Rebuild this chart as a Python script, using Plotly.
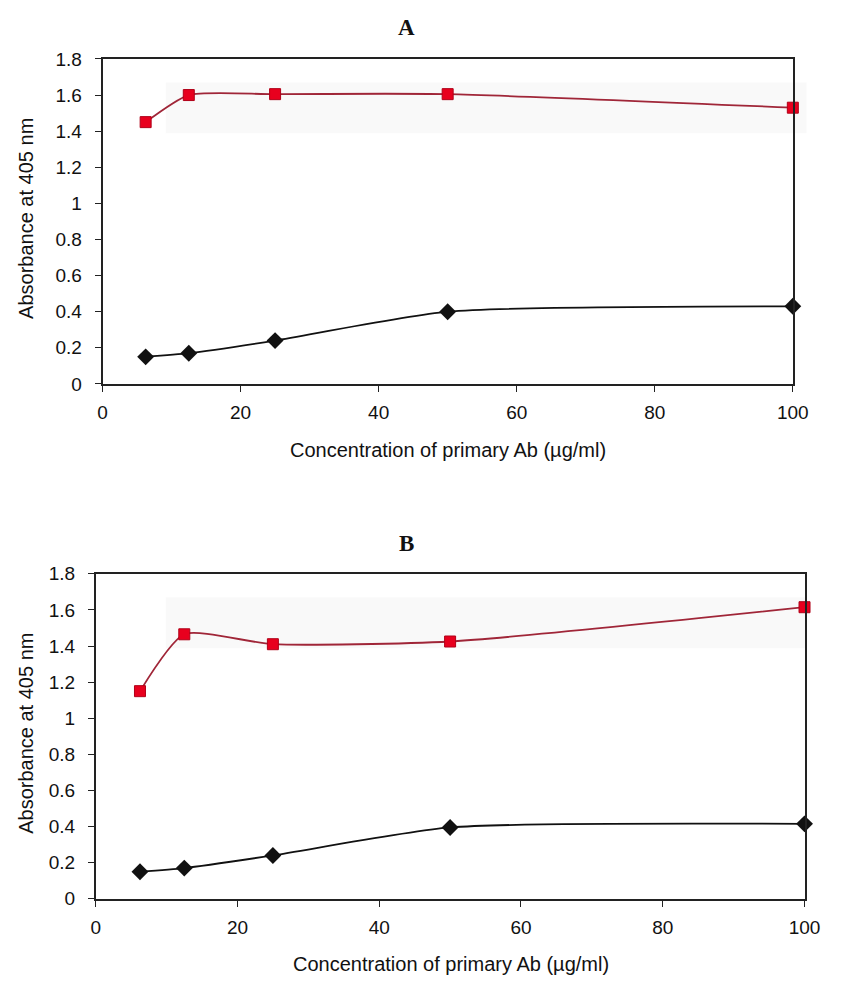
import plotly.graph_objects as go

conc = [6.25, 12.5, 25, 50, 100]
a_red = [1.45, 1.60, 1.605, 1.605, 1.53]
a_black = [0.15, 0.17, 0.24, 0.40, 0.43]
b_red = [1.15, 1.465, 1.41, 1.425, 1.615]
b_black = [0.15, 0.17, 0.24, 0.395, 0.415]
x_ticks = [0, 20, 40, 60, 80, 100]
y_ticks = [0, 0.2, 0.4, 0.6, 0.8, 1, 1.2, 1.4, 1.6, 1.8]
y_ticktext = ["0", "0.2", "0.4", "0.6", "0.8", "1", "1.2", "1.4", "1.6", "1.8"]
titles = ["A", "B"]
x_title = "Concentration of primary Ab (\u00b5g/ml)"
y_title = "Absorbance at 405 nm"

W, H = 841, 992
fig = go.Figure()

panels = [
    dict(xa="x", ya="y", red=a_red, black=a_black, xd=[100, 808], yd=[50, 382],
         title_y=18, xtitle_y=450, xtitle_x=454),
    dict(xa="x2", ya="y2", red=b_red, black=b_black, xd=[93, 820], yd=[576, 908],
         title_y=545, xtitle_y=975, xtitle_x=457),
]

FONT = "Liberation Sans, Arial, sans-serif"
for i, p in enumerate(panels):
    fig.add_trace(go.Scatter(
        x=conc, y=p["black"], xaxis=p["xa"], yaxis=p["ya"], mode="lines+markers",
        line=dict(color="#111111", width=1.8, shape="spline", smoothing=0.6),
        marker=dict(symbol="diamond", size=13, color="#111111"),
        cliponaxis=False, showlegend=False))
    fig.add_trace(go.Scatter(
        x=conc, y=p["red"], xaxis=p["xa"], yaxis=p["ya"], mode="lines+markers",
        line=dict(color="#a02638", width=1.8, shape="spline", smoothing=0.6),
        marker=dict(symbol="square", size=11, color="#e8001e",
                    line=dict(color="#b00018", width=1)),
        cliponaxis=False, showlegend=False))
    xd = [p["xd"][0] / W, p["xd"][1] / W]
    yd = [(H - p["yd"][1]) / H, (H - p["yd"][0]) / H]
    sfx = "" if i == 0 else "2"
    fig.update_layout(**{
        "xaxis" + sfx: dict(domain=xd, range=[0, 100], tickvals=x_ticks,
                            showline=True, linecolor="#222", linewidth=1.5, mirror=True,
                            ticks="outside", ticklen=6, tickcolor="#222",
                            showgrid=False, zeroline=False, anchor="y" + sfx,
                            ticklabelstandoff=5,
                            tickfont=dict(family=FONT, size=19, color="#111")),
        "yaxis" + sfx: dict(domain=yd, range=[0, 1.8], tickvals=y_ticks, ticktext=y_ticktext,
                            showline=True, linecolor="#222", linewidth=1.5, mirror=True,
                            ticks="outside", ticklen=6, tickcolor="#222",
                            showgrid=False, zeroline=False, anchor="x" + sfx,
                            ticklabelstandoff=9,
                            tickfont=dict(family=FONT, size=19, color="#111")),
    })
    # faint scan shading behind red curve
    fig.add_shape(type="rect", xref="paper", yref="paper",
                  x0=165 / W, x1=822 / W,
                  y0=(H - p["yd"][0] - 76) / H, y1=(H - p["yd"][0] - 24) / H,
                  fillcolor="rgba(238,238,238,0.35)", line=dict(width=0), layer="below")
    ycen = (p["yd"][0] + p["yd"][1]) / 2
    fig.add_annotation(text="<b>" + titles[i] + "</b>", xref="paper", yref="paper",
                       x=412 / W, y=(H - p["title_y"]) / H, showarrow=False,
                       font=dict(family="Liberation Serif, Times New Roman, serif", size=23, color="#111"),
                       xanchor="center", yanchor="middle")
    fig.add_annotation(text=x_title, xref="paper", yref="paper",
                       x=p["xtitle_x"] / W, y=(H - p["xtitle_y"]) / H,
                       showarrow=False, font=dict(family=FONT, size=20, color="#111"),
                       xanchor="center", yanchor="middle")
    fig.add_annotation(text=y_title, xref="paper", yref="paper",
                       x=22 / W, y=(H - ycen + 3) / H, textangle=-90, showarrow=False,
                       font=dict(family=FONT, size=20, color="#111"),
                       xanchor="center", yanchor="middle")

fig.update_layout(width=W, height=H, margin=dict(l=0, r=0, t=0, b=0),
                  paper_bgcolor="white", plot_bgcolor="white")
fig.write_html("out.html")
